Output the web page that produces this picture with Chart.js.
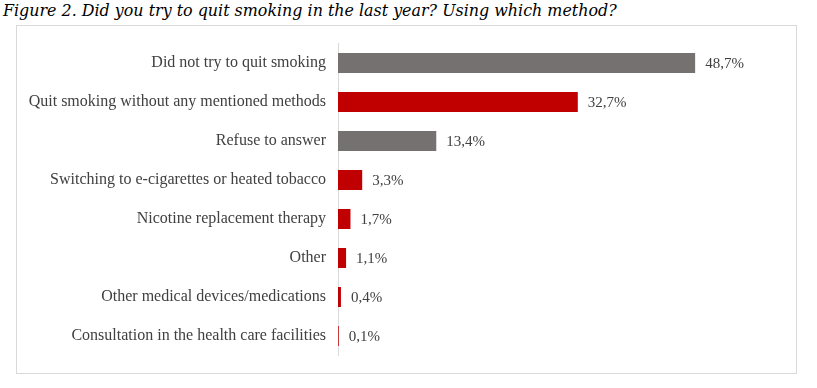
<!DOCTYPE html>
<html>
<head>
<meta charset="utf-8">
<script src="https://cdn.jsdelivr.net/npm/chart.js@4"></script>
<style>
  html, body { margin: 0; padding: 0; background: #fff; }
  body { width: 817px; height: 388px; position: relative; overflow: hidden; }
  #title { position: absolute; left: 3px; top: 0px; font-family: "DejaVu Serif", serif; font-style: italic; font-size: 15.9px; line-height: 22px; color: #000; white-space: nowrap; }
  #box { position: absolute; left: 16px; top: 25px; width: 779px; height: 347px; border: 1px solid #d9d9d9; }
  #box canvas { display: block; }
</style>
</head>
<body>
<div id="title">Figure 2. Did you try to quit smoking in the last year? Using which method?</div>
<div id="box"><canvas id="c" width="779" height="347"></canvas></div>
<script>
const categories = [
  "Did not try to quit smoking",
  "Quit smoking without any mentioned methods",
  "Refuse to answer",
  "Switching to e-cigarettes or heated tobacco",
  "Nicotine replacement therapy",
  "Other",
  "Other medical devices/medications",
  "Consultation in the health care facilities"
];
const values = [48.7, 32.7, 13.4, 3.3, 1.7, 1.1, 0.4, 0.1];
const barColors = ["#767171", "#C00000", "#767171", "#C00000", "#C00000", "#C00000", "#C00000", "#C00000"];

const valueLabels = {
  id: 'valueLabels',
  afterDatasetsDraw(chart) {
    const ctx = chart.ctx;
    const meta = chart.getDatasetMeta(0);
    ctx.save();
    ctx.font = '15px "Liberation Serif", serif';
    ctx.fillStyle = '#404040';
    ctx.textBaseline = 'middle';
    ctx.textAlign = 'left';
    meta.data.forEach((bar, i) => {
      const txt = values[i].toFixed(1).replace('.', ',') + '%';
      ctx.fillText(txt, bar.x + 10, bar.y + 1);
    });
    ctx.restore();
  }
};

new Chart(document.getElementById('c'), {
  type: 'bar',
  data: {
    labels: categories,
    datasets: [{
      data: values,
      backgroundColor: barColors,
      borderWidth: 0,
      categoryPercentage: 1,
      barPercentage: 0.515
    }]
  },
  options: {
    indexAxis: 'y',
    responsive: false,
    animation: false,
    layout: { padding: { top: 17.5, bottom: 17.5, right: 18, left: 0 } },
    plugins: { legend: { display: false }, tooltip: { enabled: false } },
    scales: {
      x: { display: false, min: 0, max: 60 },
      y: {
        grid: { display: false, drawTicks: false },
        border: { display: true, color: '#d9d9d9', width: 1 },
        ticks: { padding: 12, color: '#404040', font: { family: '"Liberation Serif", serif', size: 16 } },
        afterFit(scale) { scale.width = 321; scale.paddingTop = 0; scale.paddingBottom = 0; }
      }
    }
  },
  plugins: [valueLabels]
});
</script>
</body>
</html>
